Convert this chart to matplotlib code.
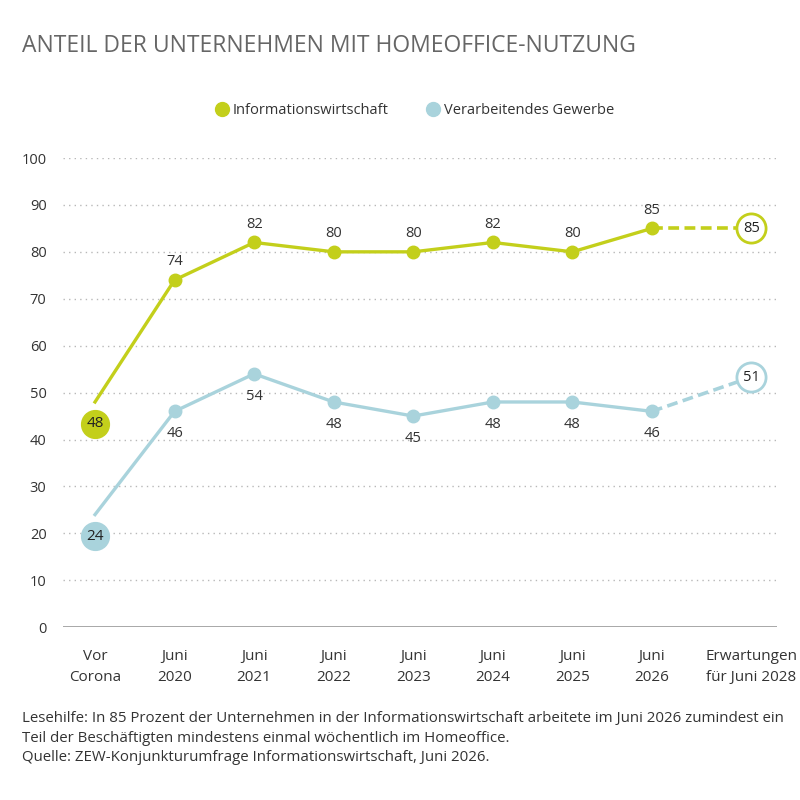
import matplotlib.pyplot as plt
from matplotlib import font_manager

# data
categories = ['Vor\nCorona', 'Juni\n2020', 'Juni\n2021', 'Juni\n2022', 'Juni\n2023',
              'Juni\n2024', 'Juni\n2025', 'Juni\n2026', 'Erwartungen\nfür Juni 2028']
info = [48, 74, 82, 80, 80, 82, 80, 85, 85]
verarb = [24, 46, 54, 48, 45, 48, 48, 46, 51]
series_names = ['Informationswirtschaft', 'Verarbeitendes Gewerbe']

GREEN = '#c3cf1b'
BLUE = '#a9d3dc'
GREY = '#666666'
TXT = '#333333'

names = {f.name for f in font_manager.fontManager.ttflist}
fam = 'Liberation Sans Narrow' if 'Liberation Sans Narrow' in names else 'Open Sans'
plt.rcParams['font.family'] = [fam, 'DejaVu Sans']

xs = [0, 1, 2, 3, 4, 5, 6, 7, 8.25]

fig = plt.figure(figsize=(8, 8), dpi=100)
ax = fig.add_axes([0.079, 0.216, 0.892, 0.5865])
ax.set_xlim(-0.4, 8.57)
ax.set_ylim(0, 100)

for yv in range(10, 101, 10):
    ax.axhline(yv, color='#b8b8b8', lw=1, ls=(0, (1, 3)), zorder=0)
ax.axhline(0, color='#999999', lw=1.2, zorder=0)

for s in ax.spines.values():
    s.set_visible(False)
ax.set_yticks(range(0, 101, 10))
ax.tick_params(axis='y', length=0, pad=12, labelsize=10.5, labelcolor=TXT)
ax.set_xticks(xs)
ax.set_xticklabels(categories, fontsize=11, color=TXT, linespacing=1.5)
ax.tick_params(axis='x', length=0, pad=16)

# solid lines (observed)
for vals, col, off in [(info, GREEN, 13), (verarb, BLUE, -16)]:
    ax.plot(xs[:8], vals[:8], color=col, lw=2.4, zorder=2)
    ax.plot(xs[1:8], vals[1:8], 'o', color=col, ms=9, zorder=3)
    for x, v in zip(xs[1:8], vals[1:8]):
        ax.annotate(str(v), (x, v), xytext=(0, off), textcoords='offset points',
                    ha='center', va='center', fontsize=10.5, color=TXT)

# expectation dashed lines
badge_end = [info[8], verarb[8] + 2.3]
ax.plot(xs[7:], [info[7], badge_end[0]], color=GREEN, lw=2.6, ls=(0, (3, 1.5)), zorder=2)
ax.plot(xs[7:], [verarb[7], badge_end[1]], color=BLUE, lw=2.6, ls=(0, (3, 1.5)), zorder=2)
for v, yv, col in [(info[8], badge_end[0], GREEN), (verarb[8], badge_end[1], BLUE)]:
    ax.plot(xs[8], yv, 'o', ms=21, mfc='white', mec=col, mew=2, zorder=4, clip_on=False)
    ax.text(xs[8], yv, str(v), ha='center', va='center', fontsize=10.5, color='#222222', zorder=5)

# Vor Corona badges
for v, col in [(info[0], GREEN), (verarb[0], BLUE)]:
    ax.plot(xs[0], v - 4.6, 'o', ms=20, color=col, zorder=4)
    ax.text(xs[0], v - 4.6, str(v), ha='center', va='center', fontsize=11, color='#222222', zorder=5)

# legend
h1, = ax.plot([], [], 'o', color=GREEN, ms=10)
h2, = ax.plot([], [], 'o', color=BLUE, ms=10)
fig.legend([h1, h2], series_names, loc='center', bbox_to_anchor=(0.518, 0.862), ncol=2,
           frameon=False, fontsize=10.5, handletextpad=0.2, columnspacing=2.6, handlelength=1,
           labelcolor=TXT)

fig.text(0.0275, 0.943, 'ANTEIL DER UNTERNEHMEN MIT HOMEOFFICE-NUTZUNG', fontsize=16.5,
         color=GREY, ha='left', va='center')
fig.text(0.0275, 0.0775, 'Lesehilfe: In 85 Prozent der Unternehmen in der Informationswirtschaft arbeitete im Juni 2026 zumindest ein\n'
         'Teil der Beschäftigten mindestens einmal wöchentlich im Homeoffice.\n'
         'Quelle: ZEW-Konjunkturumfrage Informationswirtschaft, Juni 2026.',
         fontsize=10.8, color=TXT, ha='left', va='center', linespacing=1.4)

fig.savefig('out.png', dpi=100)
